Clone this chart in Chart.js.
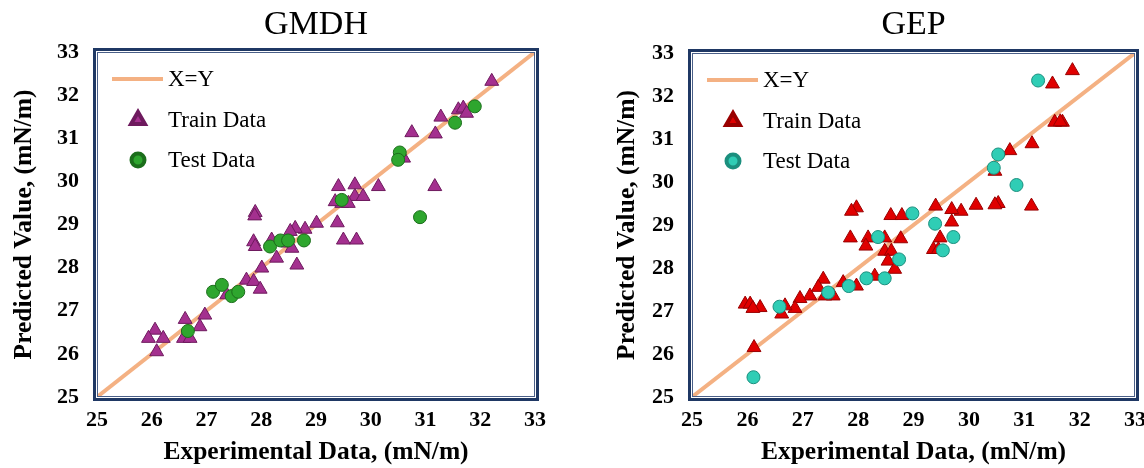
<!DOCTYPE html>
<html lang="en">
<head>
<meta charset="UTF-8">
<title>GMDH and GEP</title>
<script src="https://cdn.jsdelivr.net/npm/chart.js@4"></script>
<style>
  body { margin: 0; background: #fff; }
  .box { position: absolute; top: 0; height: 468px; }
  #left { left: 0; width: 560px; }
  #right { left: 595px; width: 549px; }
</style>
</head>
<body>
<div class="box" id="left"><canvas id="gmdhChart"></canvas></div>
<div class="box" id="right"><canvas id="gepChart"></canvas></div>

<script>
// axis range (mN/m)
const axisMin = 25;
const axisMax = 33;

// GMDH - train data
const gmdhTrainX = [32.21, 31.28, 31.60, 31.69, 31.75, 30.75, 31.18, 30.53, 30.60, 31.17, 29.41, 29.71, 30.14, 29.71, 29.86, 29.47, 29.59, 29.35, 27.89, 27.88, 29.39, 29.01, 28.80, 28.62, 28.53, 28.19, 27.86, 27.89, 28.49, 28.56, 29.50, 29.74, 28.28, 28.65, 28.01, 27.73, 27.86, 27.98, 27.37, 26.97, 26.88, 26.61, 26.58, 26.70, 26.06, 25.94, 26.21, 26.09];
const gmdhTrainY = [32.32, 31.49, 31.66, 31.70, 31.58, 31.13, 31.10, 30.61, 30.54, 29.88, 29.88, 29.92, 29.88, 29.65, 29.65, 29.49, 29.49, 29.53, 29.28, 29.20, 29.04, 29.03, 28.89, 28.91, 28.84, 28.64, 28.60, 28.49, 28.57, 28.45, 28.64, 28.64, 28.22, 28.06, 27.99, 27.71, 27.68, 27.50, 27.37, 26.90, 26.63, 26.80, 26.36, 26.36, 26.55, 26.36, 26.36, 26.05];
// GMDH - test data
const gmdhTestX = [31.90, 31.54, 30.53, 30.50, 29.47, 30.90, 28.16, 28.35, 28.49, 28.78, 27.12, 27.28, 27.46, 27.58, 26.66];
const gmdhTestY = [31.74, 31.36, 30.67, 30.50, 29.57, 29.17, 28.49, 28.63, 28.63, 28.63, 27.44, 27.60, 27.34, 27.44, 26.53];

// GEP - train data
const gepTrainX = [31.87, 31.51, 31.55, 31.69, 31.65, 31.14, 30.74, 30.47, 30.53, 30.47, 31.13, 30.13, 29.86, 29.69, 29.40, 29.69, 29.48, 29.36, 29.45, 27.97, 27.88, 28.59, 28.79, 27.86, 28.18, 28.14, 28.48, 28.77, 28.48, 28.60, 28.54, 28.66, 28.30, 27.97, 27.73, 27.55, 27.37, 27.28, 27.40, 27.13, 26.95, 26.86, 26.68, 26.62, 25.96, 26.05, 26.23, 26.10, 26.12];
const gepTrainY = [32.59, 32.28, 31.39, 31.39, 31.40, 30.89, 30.73, 30.25, 29.50, 29.47, 29.44, 29.46, 29.32, 29.36, 29.44, 29.07, 28.70, 28.43, 28.43, 29.40, 29.32, 29.22, 29.22, 28.70, 28.70, 28.51, 28.70, 28.68, 28.39, 28.39, 28.16, 27.97, 27.81, 27.58, 27.66, 27.35, 27.74, 27.55, 27.35, 27.35, 27.29, 27.06, 27.12, 26.93, 27.16, 27.16, 27.08, 27.06, 26.15];
// GEP - test data
const gepTestX = [31.25, 30.53, 30.45, 30.86, 28.98, 29.39, 29.72, 29.53, 28.36, 28.74, 28.15, 28.48, 27.83, 27.46, 26.58, 26.11];
const gepTestY = [32.36, 30.64, 30.33, 29.93, 29.27, 29.03, 28.72, 28.41, 28.72, 28.20, 27.76, 27.76, 27.58, 27.43, 27.10, 25.46];

const serif = '"Liberation Serif", "Times New Roman", serif';

function toPoints(xs, ys) {
    return xs.map((x, i) => ({ x: x, y: ys[i] }));
}

// title, double frame and the legend inside the plot area
const panelDecor = {
    id: 'panelDecor',
    afterDraw(chart, args, opts) {
        const ctx = chart.ctx;
        const a = chart.chartArea;
        ctx.save();

        ctx.fillStyle = '#000';
        ctx.font = '34px ' + serif;
        ctx.textAlign = 'center';
        ctx.textBaseline = 'middle';
        ctx.fillText(opts.title, (a.left + a.right) / 2, 25);

        // frame
        ctx.strokeStyle = '#1F3864';
        ctx.lineWidth = 3;
        ctx.strokeRect(a.left - 2.5, a.top - 2.5, a.right - a.left + 5, a.bottom - a.top + 5);
        ctx.strokeStyle = '#4A5F88';
        ctx.lineWidth = 1;
        ctx.strokeRect(a.left + 0.5, a.top + 0.5, a.right - a.left - 1, a.bottom - a.top - 1);

        // legend
        const lx = a.left;
        const ly = a.top;
        ctx.strokeStyle = '#F4B183';
        ctx.lineWidth = 4;
        ctx.beginPath();
        ctx.moveTo(lx + 15, ly + 27);
        ctx.lineTo(lx + 66, ly + 27);
        ctx.stroke();

        ctx.fillStyle = opts.trainColor;
        ctx.strokeStyle = opts.trainBorder;
        Chart.helpers.drawPoint(ctx, { pointStyle: 'triangle', radius: 8, rotation: 0, borderWidth: 1 }, lx + 41, ly + 68);
        ctx.fillStyle = opts.testColor;
        ctx.strokeStyle = opts.testBorder;
        Chart.helpers.drawPoint(ctx, { pointStyle: 'circle', radius: 6.5, rotation: 0, borderWidth: 1 }, lx + 41, ly + 108);

        ctx.fillStyle = '#000';
        ctx.font = '23px ' + serif;
        ctx.textAlign = 'left';
        ctx.fillText('X=Y', lx + 71, ly + 28);
        ctx.fillText('Train Data', lx + 71, ly + 69);
        ctx.fillText('Test Data', lx + 71, ly + 109);
        ctx.restore();
    }
};

function makeChart(canvasId, title, trainX, trainY, testX, testY, colors, padding, yTitlePad) {
    const tickFont = { family: serif, size: 22, weight: 'bold' };
    const titleFont = { family: serif, size: 25.5, weight: 'bold' };
    return new Chart(document.getElementById(canvasId), {
        type: 'scatter',
        data: {
            datasets: [
                {
                    type: 'line',
                    label: 'X=Y',
                    data: [{ x: axisMin, y: axisMin }, { x: axisMax, y: axisMax }],
                    borderColor: '#F4B183',
                    borderWidth: 4,
                    pointRadius: 0,
                    order: 3
                },
                {
                    label: 'Train Data',
                    data: toPoints(trainX, trainY),
                    pointStyle: 'triangle',
                    pointRadius: 8,
                    backgroundColor: colors.train,
                    borderColor: colors.trainBorder,
                    borderWidth: 1,
                    order: 2
                },
                {
                    label: 'Test Data',
                    data: toPoints(testX, testY),
                    pointStyle: 'circle',
                    pointRadius: 6.5,
                    backgroundColor: colors.test,
                    borderColor: colors.testBorder,
                    borderWidth: 1,
                    order: 1
                }
            ]
        },
        options: {
            responsive: true,
            maintainAspectRatio: false,
            animation: false,
            layout: { padding: padding },
            scales: {
                x: {
                    type: 'linear',
                    min: axisMin,
                    max: axisMax,
                    ticks: { stepSize: 1, font: tickFont, color: '#000', padding: 10 },
                    grid: { display: false, drawTicks: false },
                    border: { display: false },
                    title: { display: true, text: 'Experimental Data, (mN/m)', font: titleFont, color: '#000', padding: 0 },
                    afterFit(scale) {
                        scale.height = 71;
                        scale.paddingRight = 0;
                    }
                },
                y: {
                    type: 'linear',
                    min: axisMin,
                    max: axisMax,
                    ticks: { stepSize: 1, font: tickFont, color: '#000', padding: 18 },
                    grid: { display: false, drawTicks: false },
                    border: { display: false },
                    title: { display: true, text: 'Predicted Value, (mN/m)', font: titleFont, color: '#000', padding: yTitlePad },
                    afterFit(scale) { scale.width = 90; }
                }
            },
            plugins: {
                legend: { display: false },
                tooltip: { enabled: false },
                panelDecor: {
                    title: title,
                    trainColor: colors.train,
                    trainBorder: colors.trainBorder,
                    testColor: colors.test,
                    testBorder: colors.testBorder
                }
            }
        },
        plugins: [panelDecor]
    });
}

makeChart('gmdhChart', 'GMDH', gmdhTrainX, gmdhTrainY, gmdhTestX, gmdhTestY,
    { train: '#A4308F', trainBorder: '#6E1A5E', test: '#2EA62E', testBorder: '#1B6E1B' },
    { left: 7, right: 25, top: 52, bottom: 0 }, 2);

makeChart('gepChart', 'GEP', gepTrainX, gepTrainY, gepTestX, gepTestY,
    { train: '#E00000', trainBorder: '#990000', test: '#2FCDB5', testBorder: '#1B8F7E' },
    { left: 7, right: 9, top: 53, bottom: 0 }, 10);
</script>
</body>
</html>
